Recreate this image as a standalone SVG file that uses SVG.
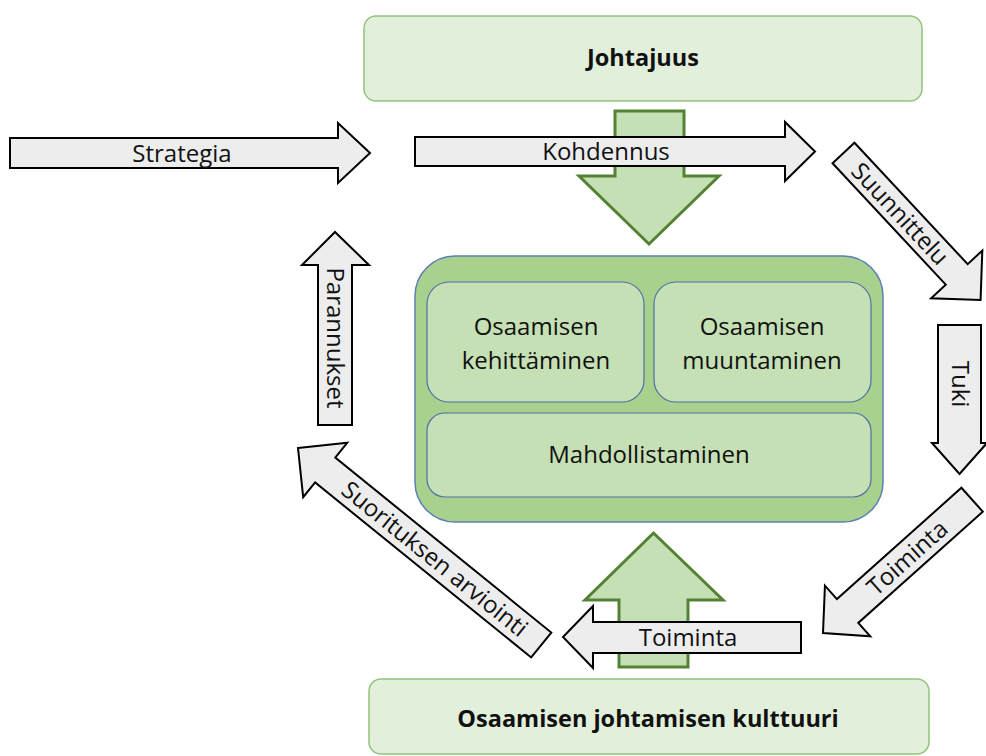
<svg xmlns="http://www.w3.org/2000/svg" width="986" height="756" viewBox="0 0 986 756">
<style>
text{font-family:"Open Sans","Noto Sans","Liberation Sans",sans-serif;font-size:24px;fill:#111;text-anchor:middle;dominant-baseline:central}
.title{font-weight:bold;font-size:23.5px}
.box{fill:#e2efda;stroke:#93c47d;stroke-width:1.5}
.big{fill:#c5e0b4;stroke:#548235;stroke-width:3}
.flow{fill:#ededed;stroke:#000;stroke-width:2;stroke-linejoin:miter}
.outer{fill:#a9d18e;stroke:#5b7fb5;stroke-width:1.5}
.inner{fill:#c5e0b4;stroke:#4f6fa8;stroke-width:1.2}
</style>
<rect width="986" height="756" fill="#fff"/>
<g id="johtajuus">
<rect class="box" x="364" y="16" width="558" height="85" rx="12"/>
<text class="title" x="643" y="57">Johtajuus</text>
</g>
<g id="kulttuuri">
<rect class="box" x="369" y="679" width="560" height="75" rx="12"/>
<text class="title" x="648" y="718">Osaamisen johtamisen kulttuuri</text>
</g>
<g id="ydin">
<rect class="outer" x="415" y="256" width="468" height="266" rx="40"/>
<g id="kehittaminen">
<rect class="inner" x="427" y="282" width="217" height="120" rx="22"/>
<text x="536" y="325">Osaamisen</text>
<text x="536" y="359">kehittäminen</text>
</g>
<g id="muuntaminen">
<rect class="inner" x="654" y="282" width="217" height="120" rx="22"/>
<text x="762" y="325">Osaamisen</text>
<text x="762" y="359">muuntaminen</text>
</g>
<g id="mahdollistaminen">
<rect class="inner" x="427" y="413" width="444" height="84" rx="18"/>
<text x="649" y="453">Mahdollistaminen</text>
</g>
</g>
<g id="connectors">
<path class="big" d="M615,111 H684 V176 H719 L649,244 L579,176 H615 Z"/>
<path class="big" d="M619,667 V600 H585 L653.5,533 L723,600 H688 V667 Z"/>
<g id="strategia">
<path class="flow" d="M10,138 H338 V123 L370,153 L338,183 V168 H10 Z"/>
<text x="182" y="152">Strategia</text>
</g>
<g id="kohdennus">
<path class="flow" d="M415,137 H785 V122 L815,151.5 L785,181 V166 H415 Z"/>
<text x="606" y="150">Kohdennus</text>
</g>
<g id="suunnittelu" transform="translate(843.5,153) rotate(47)">
<path class="flow" d="M0,-15 H166 V-35 L201,0 L166,35 V15 H0 Z"/>
<text x="83" y="-1">Suunnittelu</text>
</g>
<g id="tuki">
<path class="flow" d="M938,325 H981 V443 H987 L959.5,474 L932,443 H938 Z"/>
<text x="0" y="0" transform="translate(961,384) rotate(90)">Tuki</text>
</g>
<g id="toiminta-diag" transform="translate(823,633) rotate(-41.8)">
<path class="flow" d="M0,0 L33,-34 V-16 H200 V16 H33 V34 Z"/>
<text x="113" y="-1">Toiminta</text>
</g>
<g id="toiminta">
<path class="flow" d="M801,622 V653 H593 V668 L563,637 L593,606 V622 Z"/>
<text x="688" y="636">Toiminta</text>
</g>
<g id="arviointi" transform="translate(298,448) rotate(39)">
<path class="flow" d="M0,0 L35,-35 V-16 H313 V16 H35 V35 Z"/>
<text x="176" y="-1">Suorituksen arviointi</text>
</g>
<g id="parannukset">
<path class="flow" d="M318,425 V265 H302 L335,232 L369,265 H352 V425 Z"/>
<text x="0" y="0" transform="translate(336,338) rotate(90)">Parannukset</text>
</g>
</g>
</svg>
